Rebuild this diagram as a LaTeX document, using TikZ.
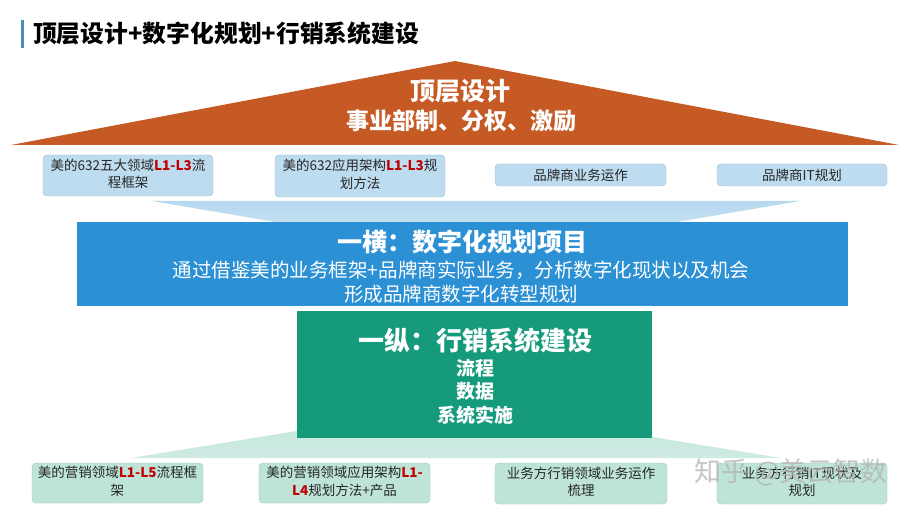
\documentclass[tikz,border=0pt]{standalone}
\usepackage{fontspec}
\setmainfont{Noto Sans CJK SC}
\usepackage{tikz}
\usetikzlibrary{positioning}
\definecolor{roofcol}{RGB}{197,90,36}
\definecolor{barcol}{RGB}{74,141,183}
\definecolor{hengcol}{RGB}{43,144,212}
\definecolor{zongcol}{RGB}{22,154,124}
\definecolor{paleblue}{RGB}{190,220,240}
\definecolor{paleblueline}{RGB}{160,184,204}
\definecolor{palegreen}{RGB}{190,228,218}
\definecolor{palegreenline}{RGB}{159,194,184}
\definecolor{levelred}{RGB}{192,0,0}
\newcommand{\lvl}[1]{\textbf{\textcolor{levelred}{#1}}}
\newcommand{\twolines}[2]{\begin{tabular}{@{}c@{}}#1\\#2\end{tabular}}

\begin{document}
\begin{tikzpicture}[x=1pt,y=-1pt,
  bluebox/.style={draw=paleblueline,fill=paleblue,rounded corners=4pt,
    inner sep=0pt,text=black!85,font=\fontsize{13.5}{18.5}\selectfont},
  greenbox/.style={bluebox,draw=palegreenline,fill=palegreen},
  headtext/.style={text=white,font=\bfseries\fontsize{25}{30}\selectfont},
  subtext/.style={text=white,font=\fontsize{19.5}{24}\selectfont}]
  \useasboundingbox (0,0) rectangle (911,513);
  \fill[white] (0,0) rectangle (911,513);
  \renewcommand{\arraystretch}{0.95}
  % title line
  \fill[barcol] (20.5,20) rectangle (23.5,48);
  \node[anchor=west,inner sep=0pt,font=\bfseries\fontsize{23.8}{28}\selectfont] (title) at (33,33) {顶层设计+数字化规划+行销系统建设};
  % roof
  \fill[roofcol] (455,61) -- (899,145) -- (11,145) -- cycle;
  \node[text=white,font=\bfseries\fontsize{25}{30}\selectfont] (roof) at (460,91) {顶层设计};
  \node[text=white,font=\bfseries\fontsize{23}{28}\selectfont] (roofsub) at (461,121) {事业部制、分权、激励};
  % upper row of boxes
  \node[bluebox,minimum width=170,minimum height=41] (u1) at (128,175.5) {\twolines{美的632五大领域\lvl{L1-L3}流}{程框架}};
  \node[bluebox,minimum width=170,minimum height=42] (u2) at (360,176) {\twolines{美的632应用架构\lvl{L1-L3}规}{划方法}};
  \node[bluebox,minimum width=171,minimum height=22] (u3) at (580.5,175) {品牌商业务运作};
  \node[bluebox,minimum width=170,minimum height=22] (u4) at (802,175) {品牌商IT规划};
  % funnels behind the two bands
  \shade[top color=paleblue!95!hengcol,bottom color=paleblue!60] (152,201) -- (800,201) -- (476,256) -- cycle;
  \shade[top color=palegreen,bottom color=palegreen!75] (456,405) -- (781,458) -- (131,458) -- cycle;
  % horizontal band
  \node[fill=hengcol,minimum width=771,minimum height=84,inner sep=0pt] (heng) at (462.5,264) {};
  \node[headtext] (henghead) at (462,242) {一横：数字化规划项目};
  \node[subtext] (hengline) at (461,270) {通过借鉴美的业务框架+品牌商实际业务，分析数字化现状以及机会};
  \node[subtext] (hengend) at (461,294) {形成品牌商数字化转型规划};
  % vertical band
  \node[fill=zongcol,minimum width=355,minimum height=127,inner sep=0pt] (zong) at (474.5,374.5) {};
  \node[headtext,font=\bfseries\fontsize{26}{30}\selectfont] (zonghead) at (475,341) {一纵：行销系统建设};
  \node[text=white,font=\bfseries\fontsize{19}{23.5}\selectfont,align=center] (zonglist) at (475,391.5) {流程\\数据\\系统实施};
  % lower row of boxes
  \node[greenbox,minimum width=171,minimum height=40] (d1) at (117.5,483) {\twolines{美的营销领域\lvl{L1-L5}流程框}{架}};
  \node[greenbox,minimum width=171,minimum height=40] (d2) at (344.5,483) {\twolines{美的营销领域应用架构\lvl{L1-}}{\lvl{L4}规划方法+产品}};
  \node[greenbox,minimum width=172,minimum height=41] (d3) at (581,483.5) {\twolines{业务方行销领域业务运作}{梳理}};
  \node[greenbox,minimum width=170,minimum height=41] (d4) at (802,483.5) {\twolines{业务方行销IT现状及}{规划}};
  % watermark
  \node[text=gray!60,opacity=0.75,font=\fontsize{27}{30}\selectfont] (mark) at (791,472) {知乎 @美云智数};
\end{tikzpicture}
\end{document}
